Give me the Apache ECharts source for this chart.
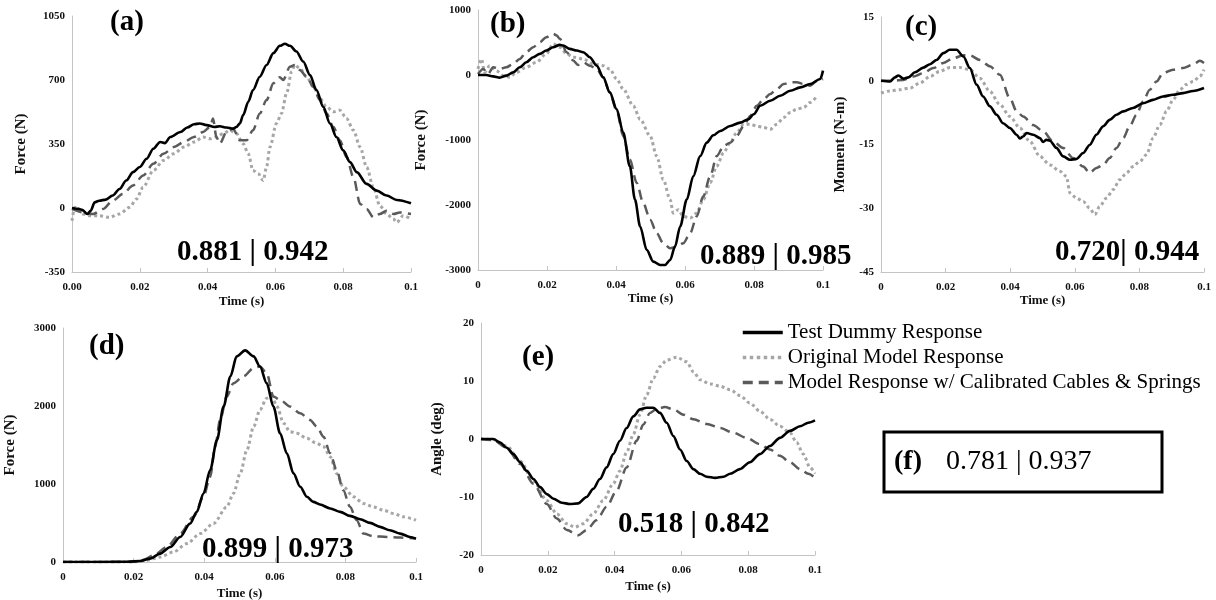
<!DOCTYPE html>
<html>
<head>
<meta charset="utf-8">
<script src="https://cdn.jsdelivr.net/npm/echarts@6/dist/echarts.min.js"></script>
<style>
html,body{margin:0;padding:0;background:#fff;}
#chart{width:1216px;height:600px;}
</style>
</head>
<body>
<div id="chart"></div>
<script>
// ---------------- DATA ----------------
const seriesNames = ['Test Dummy Response', 'Original Model Response', 'Model Response w/ Calibrated Cables & Springs'];
const panelLabels = ['(a)', '(b)', '(c)', '(d)', '(e)'];
const corrLabels = ['0.881 | 0.942', '0.889 | 0.985', '0.720| 0.944', '0.899 | 0.973', '0.518 | 0.842'];
const yNames = ['Force (N)', 'Force (N)', 'Moment (N-m)', 'Force (N)', 'Angle (deg)'];
const xName = 'Time (s)';
const xTickLabelsA = ['0.00', '0.02', '0.04', '0.06', '0.08', '0.1'];
const xTickLabels = ['0', '0.02', '0.04', '0.06', '0.08', '0.1'];
const yRanges = [[-350, 1050, 350], [-3000, 1000, 1000], [-45, 15, 15], [0, 3000, 1000], [-20, 20, 10]];
const fLabel = '(f)';
const fValue = '0.781 | 0.937';

// panel (a)
const aTest = [[0,0],[0.002,-5],[0.003,-10],[0.0045,-33],[0.0055,-15],[0.0067,31],[0.008,40],[0.010,46],[0.012,68],[0.014,104],[0.016,150],[0.018,196],[0.020,224],[0.022,269],[0.024,324],[0.026,361],[0.0274,355],[0.029,388],[0.032,416],[0.034,440],[0.036,458],[0.0377,462],[0.0397,453],[0.042,443],[0.0436,447],[0.0456,440],[0.0475,434],[0.0485,443],[0.0495,462],[0.0505,508],[0.052,581],[0.0534,645],[0.0554,718],[0.0574,782],[0.0594,847],[0.0613,887],[0.0628,898],[0.0643,887],[0.0662,856],[0.0682,801],[0.0702,727],[0.0721,645],[0.0741,553],[0.0761,462],[0.078,388],[0.080,315],[0.082,251],[0.084,196],[0.0869,132],[0.0899,95],[0.0928,68],[0.0958,44],[0.1,26]];
const aOrig = [[0,-70],[0.0008,4],[0.002,-15],[0.0033,-33],[0.005,-42],[0.008,-42],[0.011,-51],[0.014,-33],[0.017,4],[0.019,49],[0.021,114],[0.024,205],[0.027,260],[0.030,297],[0.033,333],[0.036,361],[0.0387,388],[0.0407,379],[0.0426,388],[0.0446,407],[0.0466,425],[0.0485,407],[0.0505,352],[0.052,297],[0.0534,205],[0.055,187],[0.0564,150],[0.0574,224],[0.0584,333],[0.0603,462],[0.0618,517],[0.0633,627],[0.0648,746],[0.0657,782],[0.0672,764],[0.0692,718],[0.0712,663],[0.0731,599],[0.0751,553],[0.0771,526],[0.079,535],[0.081,489],[0.083,425],[0.085,333],[0.0869,224],[0.0889,114],[0.0908,13],[0.0928,-33],[0.0948,-60],[0.0958,-79],[0.0977,-42],[0.1,-60]];
const aCal = [[0,-5],[0.0032,-24],[0.0062,-33],[0.0092,-5],[0.012,40],[0.015,77],[0.018,123],[0.021,178],[0.024,242],[0.027,297],[0.030,333],[0.033,361],[0.036,388],[0.0387,416],[0.0407,443],[0.0416,489],[0.0426,388],[0.0436,352],[0.0456,416],[0.0475,434],[0.0495,370],[0.0515,370],[0.0534,425],[0.0554,517],[0.0574,590],[0.0594,682],[0.0613,715],[0.0623,700],[0.0643,773],[0.0657,782],[0.0672,755],[0.0692,718],[0.0712,663],[0.0731,590],[0.0751,517],[0.0771,443],[0.079,370],[0.081,279],[0.083,169],[0.085,22],[0.0869,-5],[0.0889,-51],[0.0908,-33],[0.0928,-15],[0.0948,-33],[0.0967,-24],[0.1,-33]];

// panel (b)
const bTest = [[0,0],[0.0024,0],[0.0044,-21],[0.0063,-41],[0.0082,-10],[0.0102,41],[0.0121,119],[0.014,196],[0.016,273],[0.0179,325],[0.0198,376],[0.0218,428],[0.0237,464],[0.0247,454],[0.0266,402],[0.0286,376],[0.0305,351],[0.0324,273],[0.0344,144],[0.0363,-36],[0.0382,-268],[0.0402,-526],[0.0421,-887],[0.044,-1402],[0.0455,-1918],[0.047,-2330],[0.0489,-2691],[0.0508,-2871],[0.0528,-2923],[0.0542,-2923],[0.0557,-2846],[0.0571,-2640],[0.0586,-2330],[0.0605,-1918],[0.0624,-1557],[0.0644,-1248],[0.0663,-1041],[0.0682,-928],[0.0702,-861],[0.0731,-784],[0.076,-732],[0.0784,-680],[0.0799,-603],[0.0818,-474],[0.0847,-397],[0.0876,-320],[0.0905,-242],[0.0934,-191],[0.0963,-139],[0.0992,-62],[0.1,67]];
const bOrig = [[0,93],[0.001,247],[0.0019,41],[0.0034,144],[0.0053,67],[0.0073,-10],[0.0092,-36],[0.0111,41],[0.014,119],[0.0169,196],[0.0198,325],[0.0218,479],[0.0237,428],[0.0257,325],[0.0276,273],[0.0305,247],[0.0334,170],[0.0363,144],[0.0382,93],[0.0402,-62],[0.0421,-217],[0.045,-474],[0.047,-680],[0.0499,-938],[0.0518,-1248],[0.0537,-1608],[0.0557,-1918],[0.0566,-2124],[0.0581,-2072],[0.0595,-2175],[0.0615,-2201],[0.0634,-2124],[0.0653,-1918],[0.0673,-1660],[0.0692,-1402],[0.0712,-1196],[0.0731,-1041],[0.075,-887],[0.077,-758],[0.0789,-758],[0.0808,-784],[0.0828,-809],[0.0847,-835],[0.0866,-758],[0.0886,-655],[0.0905,-577],[0.0924,-526],[0.0944,-500],[0.0963,-423],[0.0983,-320]];
const bCal = [[0,15],[0.0015,93],[0.0029,15],[0.0044,119],[0.0063,93],[0.0082,119],[0.0102,170],[0.0121,247],[0.014,351],[0.016,428],[0.0179,505],[0.0198,582],[0.0218,634],[0.0228,608],[0.0237,557],[0.0257,351],[0.0276,222],[0.029,155],[0.0305,196],[0.0324,144],[0.0344,93],[0.0363,-36],[0.0382,-268],[0.0402,-552],[0.0421,-938],[0.044,-1299],[0.046,-1660],[0.0479,-1969],[0.0499,-2227],[0.0518,-2433],[0.0537,-2588],[0.0557,-2665],[0.0576,-2640],[0.0595,-2588],[0.0615,-2433],[0.0634,-2175],[0.0653,-1866],[0.0673,-1557],[0.0692,-1248],[0.0712,-1093],[0.0731,-1041],[0.075,-938],[0.077,-784],[0.0789,-629],[0.0808,-474],[0.0828,-371],[0.0847,-294],[0.0866,-216],[0.0886,-139],[0.0905,-113],[0.0924,-113],[0.0944,-139],[0.0963,-165],[0.0983,-88],[0.1,-62]];

// panel (c)
const cTest = [[0,0],[0.0028,-0.16],[0.0043,0.8],[0.0054,1.25],[0.0069,0.5],[0.0085,0.8],[0.0105,2.0],[0.0131,3.1],[0.0152,3.9],[0.0172,4.9],[0.0193,6.5],[0.0213,7.3],[0.0234,7.3],[0.0255,5.7],[0.0275,3.0],[0.0296,-0.9],[0.0316,-3.7],[0.0337,-6.0],[0.0358,-8.0],[0.0378,-10.0],[0.0399,-11.1],[0.042,-12.7],[0.043,-13.6],[0.044,-13.1],[0.0451,-12.3],[0.0471,-12.7],[0.0492,-13.5],[0.0502,-14.4],[0.0512,-13.9],[0.0523,-14.1],[0.0543,-15.8],[0.0564,-17.8],[0.0585,-18.6],[0.0605,-18.4],[0.0626,-17.0],[0.0646,-15.1],[0.0667,-12.7],[0.0688,-10.7],[0.0708,-9.2],[0.0729,-8.0],[0.075,-7.2],[0.078,-6.4],[0.0811,-5.3],[0.0842,-4.5],[0.0873,-3.7],[0.0904,-3.3],[0.0935,-2.9],[0.0966,-2.4],[0.1,-1.7]];
const cOrig = [[0,-2.9],[0.0028,-2.4],[0.0059,-2.1],[0.009,-1.7],[0.0121,-0.5],[0.0152,1.0],[0.0182,2.2],[0.0213,3.1],[0.0244,3.1],[0.0275,2.6],[0.0306,0.6],[0.0337,-2.5],[0.0368,-5.6],[0.0399,-8.4],[0.043,-11.1],[0.0461,-14.3],[0.0492,-17.8],[0.0523,-19.8],[0.0554,-21.3],[0.0574,-22.5],[0.0585,-26.4],[0.0605,-27.6],[0.0626,-28.4],[0.0646,-30.0],[0.0662,-31.5],[0.0677,-29.6],[0.0698,-27.6],[0.0719,-25.6],[0.0739,-23.3],[0.076,-21.7],[0.078,-20.2],[0.0801,-19.0],[0.0822,-17.4],[0.0842,-13.5],[0.0863,-10.4],[0.0884,-7.2],[0.0904,-4.5],[0.0925,-2.1],[0.0945,-0.9],[0.0966,-0.2],[0.0987,1.0],[0.1,2.6]];
const cCal = [[0,0],[0.0038,0],[0.0069,0.2],[0.01,1.0],[0.0131,1.8],[0.0162,3.0],[0.0193,4.2],[0.0224,5.3],[0.0255,6.0],[0.0275,6.0],[0.0306,4.9],[0.0337,3.4],[0.0368,1.4],[0.0399,-4.1],[0.042,-7.2],[0.044,-8.4],[0.0471,-10.4],[0.0502,-11.9],[0.0533,-14.3],[0.0564,-15.8],[0.0595,-18.2],[0.0626,-20.2],[0.0646,-21.7],[0.0667,-20.5],[0.0688,-19.8],[0.0708,-18.2],[0.0729,-15.8],[0.075,-13.5],[0.077,-10.7],[0.0791,-8.0],[0.0811,-4.9],[0.0832,-2.1],[0.0853,-0.2],[0.0873,1.8],[0.0904,2.6],[0.0935,3.0],[0.0966,3.8],[0.0987,4.7],[0.1,4.2]];

// panel (d)
const dTest = [[0,0],[0.0106,0],[0.0181,4],[0.0219,13],[0.0247,43],[0.0275,107],[0.0304,193],[0.0332,321],[0.036,493],[0.0379,643],[0.0398,879],[0.0417,1179],[0.0436,1564],[0.0455,1993],[0.0474,2379],[0.0492,2636],[0.0516,2713],[0.054,2636],[0.0558,2507],[0.0577,2293],[0.0596,1993],[0.0615,1650],[0.0634,1393],[0.0653,1136],[0.0672,964],[0.0691,836],[0.0709,771],[0.0728,737],[0.0757,686],[0.0785,643],[0.0813,591],[0.0842,549],[0.087,501],[0.0898,450],[0.0926,407],[0.0955,364],[0.0983,321],[0.1,300]];
const dOrig = [[0,0],[0.02,0],[0.0238,21],[0.0275,64],[0.0313,129],[0.0351,236],[0.0389,364],[0.0426,493],[0.0464,707],[0.0483,879],[0.0502,1136],[0.0521,1436],[0.054,1736],[0.0558,1950],[0.0577,2100],[0.0592,2122],[0.0606,1993],[0.0625,1779],[0.0643,1671],[0.0662,1650],[0.0691,1586],[0.0719,1521],[0.0738,1479],[0.0757,1350],[0.0775,1136],[0.0794,964],[0.0823,836],[0.0851,750],[0.0879,707],[0.0908,664],[0.0936,621],[0.0964,579],[0.1,536]];
const dCal = [[0,0],[0.02,0],[0.0228,30],[0.0257,86],[0.0294,193],[0.0332,364],[0.037,579],[0.0398,836],[0.0417,1093],[0.0431,1479],[0.0445,1821],[0.0464,2122],[0.0483,2293],[0.0511,2379],[0.054,2486],[0.0558,2507],[0.0577,2422],[0.0596,2122],[0.0615,2079],[0.0643,1993],[0.0672,1907],[0.07,1821],[0.0719,1736],[0.0738,1607],[0.0757,1393],[0.0775,1179],[0.0794,921],[0.0813,707],[0.0832,536],[0.0851,364],[0.0879,330],[0.0917,321],[0.0955,313],[0.1,300]];

// panel (e)
const eTest = [[0,0],[0.0037,0],[0.0057,-0.6],[0.0077,-1.5],[0.0097,-2.6],[0.0117,-4.0],[0.0137,-5.5],[0.0157,-6.9],[0.0177,-8.3],[0.0197,-9.5],[0.0217,-10.3],[0.0242,-11.0],[0.0266,-11.2],[0.0291,-11.1],[0.0316,-10.0],[0.0336,-8.6],[0.0356,-6.9],[0.0376,-4.9],[0.0396,-2.6],[0.0416,-0.3],[0.0436,1.9],[0.0456,3.9],[0.0476,5.1],[0.0496,5.4],[0.0516,5.4],[0.0536,4.5],[0.0556,2.8],[0.0576,0.5],[0.0596,-1.8],[0.0616,-3.8],[0.0636,-5.2],[0.0656,-6.0],[0.0676,-6.5],[0.0701,-6.7],[0.0726,-6.5],[0.0746,-6.0],[0.0775,-5.2],[0.0805,-4.0],[0.0835,-2.6],[0.0865,-1.2],[0.0895,0.2],[0.0925,1.4],[0.0955,2.2],[0.098,2.8],[0.1,3.2]];
const eOrig = [[0,0],[0.0037,-0.1],[0.0077,-1.2],[0.0117,-3.8],[0.0157,-7.2],[0.0197,-10.6],[0.0227,-12.9],[0.0257,-14.6],[0.0281,-15.2],[0.0306,-14.6],[0.0336,-12.9],[0.0366,-10.6],[0.0396,-7.7],[0.0416,-5.5],[0.0436,-2.3],[0.0456,0.8],[0.0476,4.2],[0.0496,7.6],[0.0516,10.5],[0.0536,12.5],[0.0556,13.6],[0.0586,14.1],[0.0616,13.3],[0.0636,11.6],[0.0656,10.2],[0.0686,9.5],[0.0716,9.1],[0.0746,8.5],[0.0775,7.5],[0.0805,6.2],[0.0835,4.8],[0.0865,3.4],[0.0895,2.2],[0.0925,1.1],[0.0945,-0.6],[0.0965,-2.6],[0.0985,-4.9],[0.1,-6.0]];
const eCal = [[0,0],[0.0037,-0.2],[0.0077,-1.5],[0.0117,-4.3],[0.0157,-7.7],[0.0197,-11.2],[0.0227,-13.7],[0.0257,-15.7],[0.0291,-16.6],[0.0316,-15.7],[0.0346,-14.0],[0.0376,-11.7],[0.0406,-8.9],[0.0436,-4.9],[0.0466,-0.3],[0.0486,2.5],[0.0506,4.5],[0.0526,5.2],[0.0551,5.5],[0.0576,5.1],[0.0606,4.2],[0.0636,3.4],[0.0676,2.6],[0.0716,1.9],[0.0755,1.1],[0.0795,0.2],[0.0835,-0.9],[0.0865,-1.8],[0.0895,-2.9],[0.0925,-4.0],[0.0955,-5.2],[0.098,-6.0],[0.1,-6.7]];

const panelTest = [aTest, bTest, cTest, dTest, eTest];
const panelOrig = [aOrig, bOrig, cOrig, dOrig, eOrig];
const panelCal = [aCal, bCal, cCal, dCal, eCal];

// ---------------- LAYOUT / STYLE ----------------
const SERIF = "'Liberation Serif', 'Times New Roman', Times, serif";
const grids = [
  {left: 72, top: 16, width: 339, height: 256},
  {left: 478, top: 10, width: 345, height: 260},
  {left: 881, top: 17, width: 323, height: 255},
  {left: 63, top: 328, width: 353, height: 234},
  {left: 481, top: 323, width: 334, height: 232}
];
const yNameGaps = [43, 49, 33, 45, 36];
const xNameGaps = [23, 21, 21, 25, 25];
const panelLabelPos = [[110, 23], [490, 25], [905, 28], [89, 347], [522, 358]];
const corrPos = [[177, 253], [700, 257], [1055, 253], [202, 550], [618, 525]];
const AXIS_GRAY = '#c4c4c4';

const styles = {
  test: {color: '#000000', width: 2.6, type: 'solid'},
  orig: {color: '#a6a6a6', width: 3, type: 'dotted'},
  cal: {color: '#5a5a5a', width: 2.5, type: [10, 6]}
};

const xAxes = [], yAxes = [], series = [], graphics = [];
grids.forEach((g, i) => {
  g.outerBoundsMode = 'none';
  const labels = i === 0 ? xTickLabelsA : xTickLabels;
  xAxes.push({
    type: 'value', gridIndex: i, min: 0, max: 0.1, interval: 0.02,
    name: xName, nameLocation: 'middle', nameGap: xNameGaps[i],
    nameTextStyle: {fontFamily: SERIF, fontWeight: 'bold', fontSize: 13, color: '#111'},
    axisLine: {onZero: false, lineStyle: {color: AXIS_GRAY, width: 1}},
    axisTick: {show: true, inside: true, length: 4, lineStyle: {color: AXIS_GRAY}},
    splitLine: {show: false},
    axisLabel: {
      fontFamily: SERIF, fontWeight: 'bold', fontSize: 11, color: '#111', margin: 10,
      formatter: v => labels[Math.round(v / 0.02)]
    }
  });
  const yr = yRanges[i];
  yAxes.push({
    type: 'value', gridIndex: i, min: yr[0], max: yr[1], interval: yr[2],
    name: yNames[i], nameLocation: 'middle', nameGap: yNameGaps[i], nameRotate: 90,
    nameTextStyle: {fontFamily: SERIF, fontWeight: 'bold', fontSize: 15, color: '#111'},
    axisLine: {show: true, lineStyle: {color: AXIS_GRAY, width: 1}},
    axisTick: {show: false},
    splitLine: {show: false},
    axisLabel: {fontFamily: SERIF, fontWeight: 'bold', fontSize: 11, color: '#111', margin: 7,
      formatter: v => String(v)}
  });
  const mk = (name, data, st, z) => ({
    name, type: 'line', xAxisIndex: i, yAxisIndex: i, data,
    symbol: 'none', showSymbol: false, smooth: 0.3, smoothMonotone: 'x', z,
    lineStyle: {color: st.color, width: st.width, type: st.type},
    itemStyle: {color: st.color}
  });
  series.push(mk(seriesNames[1], panelOrig[i], styles.orig, 2));
  series.push(mk(seriesNames[2], panelCal[i], styles.cal, 3));
  series.push(mk(seriesNames[0], panelTest[i], styles.test, 4));

  graphics.push({
    type: 'text', x: panelLabelPos[i][0], y: panelLabelPos[i][1], z: 10,
    style: {text: panelLabels[i], font: 'bold 29px ' + SERIF, fill: '#000', align: 'left', verticalAlign: 'middle'}
  });
  graphics.push({
    type: 'text', x: corrPos[i][0], y: corrPos[i][1], z: 10,
    style: {text: corrLabels[i], font: 'bold 29px ' + SERIF, fill: '#000', align: 'left', verticalAlign: 'middle'}
  });
});

graphics.push({
  type: 'rect', x: 0, y: 0, z: 10,
  shape: {x: 884, y: 432, width: 278, height: 60},
  style: {fill: 'none', stroke: '#000', lineWidth: 3}
});
graphics.push({
  type: 'text', x: 894, y: 462, z: 11,
  style: {text: fLabel, font: 'bold 28px ' + SERIF, fill: '#000', align: 'left', verticalAlign: 'middle'}
});
graphics.push({
  type: 'text', x: 946, y: 462, z: 11,
  style: {text: fValue, font: '28px ' + SERIF, fill: '#000', align: 'left', verticalAlign: 'middle'}
});

const option = {
  animation: false,
  backgroundColor: '#ffffff',
  grid: grids,
  xAxis: xAxes,
  yAxis: yAxes,
  legend: {
    data: seriesNames,
    orient: 'vertical',
    left: 741, top: 322, padding: 0,
    itemWidth: 40, itemHeight: 14, itemGap: 4,
    itemStyle: {opacity: 0},
    lineStyle: {width: 3.5},
    textStyle: {fontFamily: SERIF, fontSize: 21, color: '#000'},
    selectedMode: false
  },
  series: series,
  graphic: graphics
};

const chart = echarts.init(document.getElementById('chart'), null, {renderer: 'canvas'});
chart.setOption(option);
</script>
</body>
</html>
